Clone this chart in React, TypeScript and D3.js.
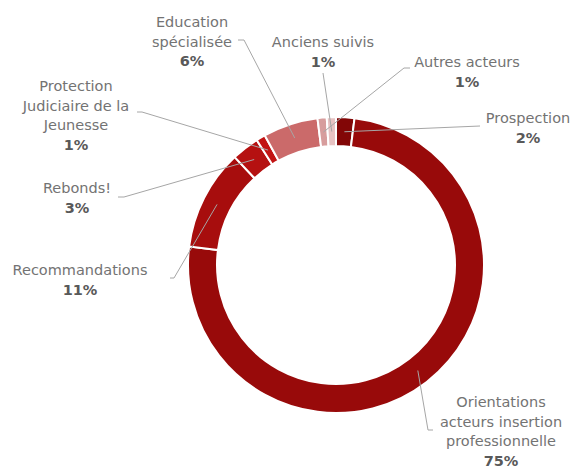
import React from "react";
import * as d3 from "d3";

const categories = [
  "Prospection",
  "Orientations acteurs insertion professionnelle",
  "Recommandations",
  "Rebonds!",
  "Protection Judiciaire de la Jeunesse",
  "Education spécialisée",
  "Autres acteurs",
  "Anciens suivis",
];
const values = [2, 75, 11, 3, 1, 6, 1, 1];
const percentLabels = ["2%", "75%", "11%", "3%", "1%", "6%", "1%", "1%"];
const sliceColors = ["#820606", "#980A0A", "#A70D0D", "#B51111", "#C21414", "#CB6A6A", "#D79D9D", "#E7C3C3"];

// label layout: text lines, anchor (center x, first baseline y), leader start/elbow
const labelLayout: Record<string, { lines: string[]; x: number; y: number; leader: [number, number][] }> = {
  "Prospection": { lines: ["Prospection"], x: 528, y: 123, leader: [[480, 126]] },
  "Orientations acteurs insertion professionnelle": {
    lines: ["Orientations", "acteurs insertion", "professionnelle"], x: 501, y: 407,
    leader: [[433, 430], [428, 430]],
  },
  "Recommandations": { lines: ["Recommandations"], x: 80, y: 275, leader: [[170, 278], [174, 278]] },
  "Rebonds!": { lines: ["Rebonds!"], x: 77, y: 193, leader: [[118, 197], [124, 197]] },
  "Protection Judiciaire de la Jeunesse": {
    lines: ["Protection", "Judiciaire de la", "Jeunesse"], x: 76, y: 91,
    leader: [[137, 112], [142, 112]],
  },
  "Education spécialisée": { lines: ["Education", "spécialisée"], x: 192, y: 27, leader: [[238, 40], [244, 40]] },
  "Autres acteurs": { lines: ["Autres acteurs"], x: 467, y: 67, leader: [[410, 68], [404, 68]] },
  "Anciens suivis": { lines: ["Anciens suivis"], x: 323, y: 47, leader: [[323, 73]] },
};

const W = 576;
const H = 468;
const cx = 336;
const cy = 265;
const outerR = 148;
const innerR = 119;
const lineH = 19.7;

export default function App() {
  const pie = d3.pie<number>().sort(null).value((d) => d)(values);
  const arc = d3.arc<d3.PieArcDatum<number>>().innerRadius(innerR).outerRadius(outerR);
  const midArc = d3.arc<d3.PieArcDatum<number>>().innerRadius((innerR + outerR) / 2).outerRadius((innerR + outerR) / 2);
  const font = "'DejaVu Sans', sans-serif";

  return (
    <svg width={W} height={H} style={{ position: "absolute", left: 0, top: 0, background: "#fff" }}>
      <g transform={`translate(${cx},${cy})`}>
        {pie.map((p, i) => (
          <path key={i} d={arc(p) || ""} fill={sliceColors[i]} stroke="#fff" strokeWidth={2} />
        ))}
      </g>
      {pie.map((p, i) => {
        const lay = labelLayout[categories[i]];
        const c = midArc.centroid(p);
        const pts = [...lay.leader, [c[0] + cx, c[1] + cy]];
        const line = d3.line()(pts as [number, number][]) || "";
        return <path key={"l" + i} d={line} fill="none" stroke="#A6A6A6" strokeWidth={1} />;
      })}
      {categories.map((cat, i) => {
        const lay = labelLayout[cat];
        return (
          <text key={"t" + i} x={lay.x} y={lay.y} textAnchor="middle" fontFamily={font} fontSize={14.5} fill="#737373">
            {lay.lines.map((ln, j) => (
              <tspan key={j} x={lay.x} y={lay.y + j * lineH}>{ln}</tspan>
            ))}
            <tspan x={lay.x} y={lay.y + lay.lines.length * lineH} fontWeight="bold" fill="#595959">
              {percentLabels[i]}
            </tspan>
          </text>
        );
      })}
    </svg>
  );
}
